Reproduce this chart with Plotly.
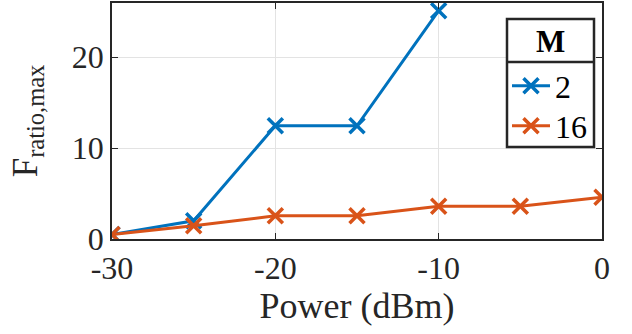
import plotly.graph_objects as go

power = [-30, -25, -20, -15, -10, -5, 0]
m2_power = [-30, -25, -20, -15, -10]
m2_values = [0.5, 2.0, 12.45, 12.45, 25.1]
m16_values = [0.5, 1.45, 2.55, 2.55, 3.6, 3.6, 4.6]
x_ticks = [-30, -20, -10, 0]
y_ticks = [0, 10, 20]

blue = "#0072BD"
orange = "#D95319"
FONT = "Liberation Serif"
axc = "#262626"

fig = go.Figure()
fig.add_trace(go.Scatter(x=m2_power, y=m2_values, mode="lines+markers", name="2",
                         legend="legend",
                         line=dict(color=blue, width=3),
                         marker=dict(symbol="x-thin-open", size=15, line=dict(color=blue, width=3.5))))
fig.add_trace(go.Scatter(x=power, y=m16_values, mode="lines+markers", name="16",
                         legend="legend2",
                         line=dict(color=orange, width=3),
                         marker=dict(symbol="x-thin-open", size=15, line=dict(color=orange, width=3.5))))

L, R, T, B = 112, 30, 3, 95
W, H = 632, 334
pw, ph = W - L - R, H - T - B

def px(xp):
    return (xp - L) / pw

def py(yp):
    return (H - B - yp) / ph

leg_common = dict(xanchor="left", yanchor="middle", bgcolor="rgba(0,0,0,0)", borderwidth=0,
                  font=dict(family=FONT, size=32, color="black"), itemwidth=38)

fig.update_layout(
    width=W, height=H,
    margin=dict(l=L, r=R, t=T, b=B, autoexpand=False),
    paper_bgcolor="white", plot_bgcolor="white",
    font=dict(family=FONT, size=32, color=axc),
    showlegend=True,
    legend=dict(x=px(507), y=py(86), **leg_common),
    legend2=dict(x=px(507), y=py(126), **leg_common),
    xaxis=dict(
        range=[-30, 0], tickvals=x_ticks, ticktext=[str(v) for v in x_ticks],
        automargin=False,
        showgrid=True, gridcolor="#E3E3E3", gridwidth=1,
        showline=True, linecolor=axc, linewidth=1.5, mirror="ticks",
        ticks="inside", ticklen=6, tickcolor=axc,
        zeroline=False,
        title=dict(text="Power (dBm)", font=dict(size=36, family=FONT, color=axc), standoff=8),
        tickfont=dict(size=32, family=FONT, color=axc),
    ),
    yaxis=dict(
        range=[0, 25.95], tickvals=y_ticks, ticktext=[str(v) for v in y_ticks],
        automargin=False,
        showgrid=True, gridcolor="#E3E3E3", gridwidth=1,
        showline=True, linecolor=axc, linewidth=1.5, mirror="ticks",
        ticks="inside", ticklen=6, tickcolor=axc,
        zeroline=False,
        title=dict(text="F<sub>ratio,max</sub>", font=dict(size=35, family=FONT, color=axc), standoff=24),
        tickfont=dict(size=32, family=FONT, color=axc),
    ),
    shapes=[
        dict(type="rect", xref="paper", yref="paper",
             x0=px(507), x1=px(594), y0=py(147), y1=py(19),
             line=dict(color=axc, width=2.5), fillcolor="white", layer="above"),
        dict(type="line", xref="paper", yref="paper",
             x0=px(507), x1=px(594), y0=py(62), y1=py(62),
             line=dict(color=axc, width=2.5), layer="above"),
    ],
    annotations=[
        dict(text="<b>M</b>", xref="paper", yref="paper", x=px(550.5), y=py(41),
             xanchor="center", yanchor="middle", showarrow=False,
             font=dict(family=FONT, size=31, color="black")),
    ],
)

fig.write_html("out.html", config={"displayModeBar": False},
               post_script="document.body.style.margin='0';")
